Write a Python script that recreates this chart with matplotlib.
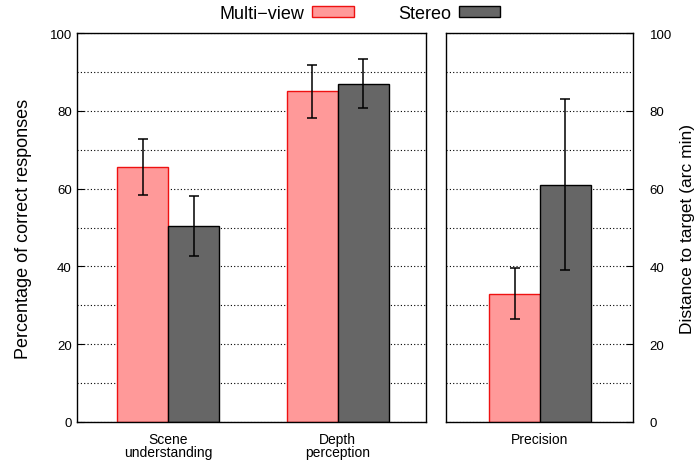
import matplotlib.pyplot as plt
import numpy as np
from matplotlib.patches import Patch

plt.rcParams['font.family'] = ['Liberation Sans', 'DejaVu Sans']

# left panel: percentage of correct responses
tasks = ["Scene\nunderstanding", "Depth\nperception"]
multi_pct = [65.5, 85.0]
multi_pct_err = [7.2, 6.7]
stereo_pct = [50.5, 87.0]
stereo_pct_err = [7.7, 6.3]

# right panel: distance to target (arc min)
prec_labels = ["Precision"]
multi_dist = [33.0]
multi_dist_err = [6.5]
stereo_dist = [61.0]
stereo_dist_err = [22.0]

MULTI_FACE = "#ff9999"
MULTI_EDGE = "#ee1111"
STEREO_FACE = "#666666"
STEREO_EDGE = "#000000"
W = 0.3


def draw_panel(ax, labels, m, me, s, se):
    x = np.arange(len(labels))
    ax.bar(x - W / 2, m, W, color=MULTI_FACE, edgecolor=MULTI_EDGE, linewidth=1, zorder=2)
    ax.bar(x + W / 2, s, W, color=STEREO_FACE, edgecolor=STEREO_EDGE, linewidth=1, zorder=2)
    ax.errorbar(x - W / 2, m, yerr=me, fmt="none", ecolor="black", capsize=3.5,
                elinewidth=1.1, capthick=1.1, zorder=3)
    ax.errorbar(x + W / 2, s, yerr=se, fmt="none", ecolor="black", capsize=3.5,
                elinewidth=1.1, capthick=1.1, zorder=3)
    ax.set_xticks(x)
    ax.set_xticklabels(labels, fontsize=10, linespacing=0.95)
    ax.tick_params(axis="x", length=0, pad=7)
    ax.set_ylim(0, 100)
    ax.set_yticks(range(0, 101, 20))
    ax.set_yticks(range(10, 100, 20), minor=True)
    ax.tick_params(axis="y", which="both", direction="in", labelsize=9.5, length=5)
    ax.tick_params(axis="y", which="minor", length=0)
    ax.grid(axis="y", which="both", linestyle=(0, (1, 2)), color="black", linewidth=0.8, zorder=0)
    for sp in ax.spines.values():
        sp.set_linewidth(1.0)


fig = plt.figure(figsize=(6.98, 4.64), dpi=100)
ax1 = fig.add_axes([0.110, 0.0884, 0.500, 0.838])
ax2 = fig.add_axes([0.639, 0.0884, 0.268, 0.838])

draw_panel(ax1, tasks, multi_pct, multi_pct_err, stereo_pct, stereo_pct_err)
ax1.set_xlim(-0.54, 1.52)
ax1.set_ylabel("Percentage of correct responses", fontsize=13, labelpad=13)

draw_panel(ax2, prec_labels, multi_dist, multi_dist_err, stereo_dist, stereo_dist_err)
ax2.set_xlim(-0.555, 0.55)
ax2.yaxis.tick_right()
ax2.yaxis.set_label_position("right")
ax2.tick_params(axis="y", which="both", pad=12)
ax2.set_ylabel("Distance to target (arc min)", fontsize=12.5, labelpad=6)

handles = [Patch(facecolor=MULTI_FACE, edgecolor=MULTI_EDGE),
           Patch(facecolor=STEREO_FACE, edgecolor=STEREO_EDGE)]
fig.legend(handles, ["Multi\u2212view", "Stereo"], loc="upper center",
           bbox_to_anchor=(0.516, 1.022), ncol=2, frameon=False, markerfirst=False,
           fontsize=13, handlelength=2.3, handleheight=0.55, columnspacing=2.5,
           handletextpad=0.4)

fig.savefig("out.png", dpi=100)
